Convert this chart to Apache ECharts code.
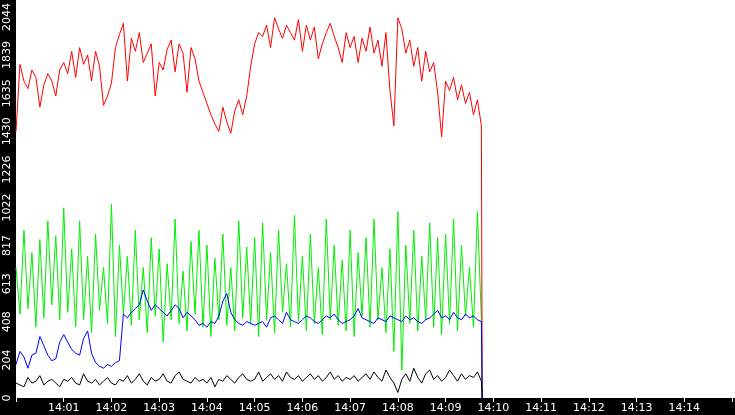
<!DOCTYPE html>
<html><head><meta charset="utf-8">
<script src="https://cdn.jsdelivr.net/npm/echarts@6/dist/echarts.min.js"></script>
<style>html,body{margin:0;padding:0;background:#fff}#c{width:735px;height:415px}</style>
</head><body><div id="c"></div>
<script>
const startTime = '2024-01-01T14:00:00';
const stepSeconds = 5;
const yTicks = [0,204,408,613,817,1022,1226,1430,1635,1839,2044];
const red = [1430,1790,1700,1660,1760,1720,1560,1680,1740,1700,1620,1760,
1800,1740,1860,1720,1880,1790,1840,1700,1860,1780,1570,1620,
1690,1880,1950,2010,1700,1930,1860,1960,1800,1850,1900,1620,
1800,1760,1870,1920,1750,1900,1850,1640,1880,1820,1700,1640,
1580,1520,1470,1430,1560,1480,1420,1540,1600,1520,1620,1780,
1900,1960,1940,2000,1880,2040,1980,1930,2000,1960,1920,2030,
1860,2000,1920,1990,1820,1900,1960,2010,1940,1880,1800,1960,
1880,1940,1800,1930,1860,1990,1850,1920,1780,1960,1650,1460,
2040,1980,1850,1920,1780,1880,1700,1860,1750,1800,1640,1400,
1700,1650,1720,1600,1680,1580,1640,1520,1600,1460,0];
const green = [700,450,900,480,780,380,850,430,950,500,870,420,
1020,460,800,380,950,420,760,350,880,470,700,400,
1040,330,820,450,760,390,900,420,700,350,860,440,
800,300,720,420,960,400,680,360,840,450,900,380,
820,330,750,420,880,390,700,360,950,430,810,400,
860,330,940,420,780,350,900,460,720,380,980,410,
760,360,880,400,700,340,960,420,820,390,740,360,
900,330,780,440,860,380,960,420,700,350,800,250,
1000,150,820,400,900,360,760,420,940,380,860,340,
880,400,960,360,820,440,700,380,1000,420,0];
const blue = [180,250,220,160,230,240,330,280,230,200,210,300,
340,300,260,240,230,320,360,240,190,170,160,180,
170,190,200,450,430,460,480,500,580,520,470,500,
480,460,440,470,500,480,430,460,440,420,390,400,
380,410,400,440,520,560,460,420,400,390,410,400,
390,400,410,380,430,440,420,400,460,420,410,400,
420,440,430,410,400,420,440,430,450,420,400,410,
420,440,480,430,420,410,400,430,420,410,440,430,
420,410,440,420,430,410,400,420,430,450,470,430,
440,420,460,430,420,450,430,440,420,410,0];
const black = [80,70,60,110,80,90,120,70,90,100,80,60,
100,90,110,80,70,130,90,80,100,70,90,110,
80,70,100,90,120,80,100,130,90,70,110,90,
100,130,90,80,120,140,100,90,80,110,90,100,
80,110,60,100,90,120,100,80,110,130,100,90,
100,140,90,110,130,100,120,90,140,110,100,120,
90,110,130,100,120,90,110,140,100,120,90,110,
100,120,90,110,130,100,140,110,90,150,110,80,
30,100,130,90,160,110,80,130,150,100,120,90,
110,150,120,90,130,100,120,110,140,90,0];

const t0 = new Date(startTime).getTime();
function times(n){const a=[];for(let i=0;i<n;i++){a.push(i===n-1? t0+(i-1)*stepSeconds*1000+1000 : t0+i*stepSeconds*1000);}return a;}
function pairs(vals){const ts=times(vals.length);return vals.map((v,i)=>[ts[i],v]);}
function mk(name,vals,color){return {name,type:'line',data:pairs(vals),showSymbol:false,symbol:'none',lineStyle:{width:1,color},itemStyle:{color},animation:false};}
const pad=n=>String(n).padStart(2,'0');
const chart = echarts.init(document.getElementById('c'));
chart.setOption({
  animation:false,
  backgroundColor:'#fff',
  graphic:[
    {type:'rect',left:0,top:0,shape:{width:16,height:415},style:{fill:'#000'},z:-1},
    {type:'rect',left:0,top:398,shape:{width:735,height:17},style:{fill:'#000'},z:-1}
  ],
  grid:{left:16,right:0,top:3,bottom:17},
  xAxis:{type:'value',min:t0,max:t0+15*60000,interval:60000,splitLine:{show:false},
    axisLine:{show:false},
    axisTick:{show:true,length:4,lineStyle:{color:'#fff'}},
    axisLabel:{color:'#fff',fontFamily:'DejaVu Sans',fontSize:11,margin:5,interval:0,
      formatter:v=>{if(v<=t0||v>=t0+15*60000)return '';const d=new Date(v);return pad(d.getHours())+':'+pad(d.getMinutes());}}},
  yAxis:{type:'value',min:0,max:2044,interval:204.4,splitLine:{show:false},
    axisLine:{show:false},axisTick:{show:false},
    axisLabel:{color:'#fff',fontFamily:'DejaVu Sans',fontSize:11,rotate:90,margin:3,
      formatter:v=>String(yTicks[Math.round(v/204.4)])}},
  series:[mk('green',green,'#00ee00'),mk('red',red,'#ff0000'),mk('blue',blue,'#0000ff'),mk('black',black,'#000000')]
});
</script></body></html>
